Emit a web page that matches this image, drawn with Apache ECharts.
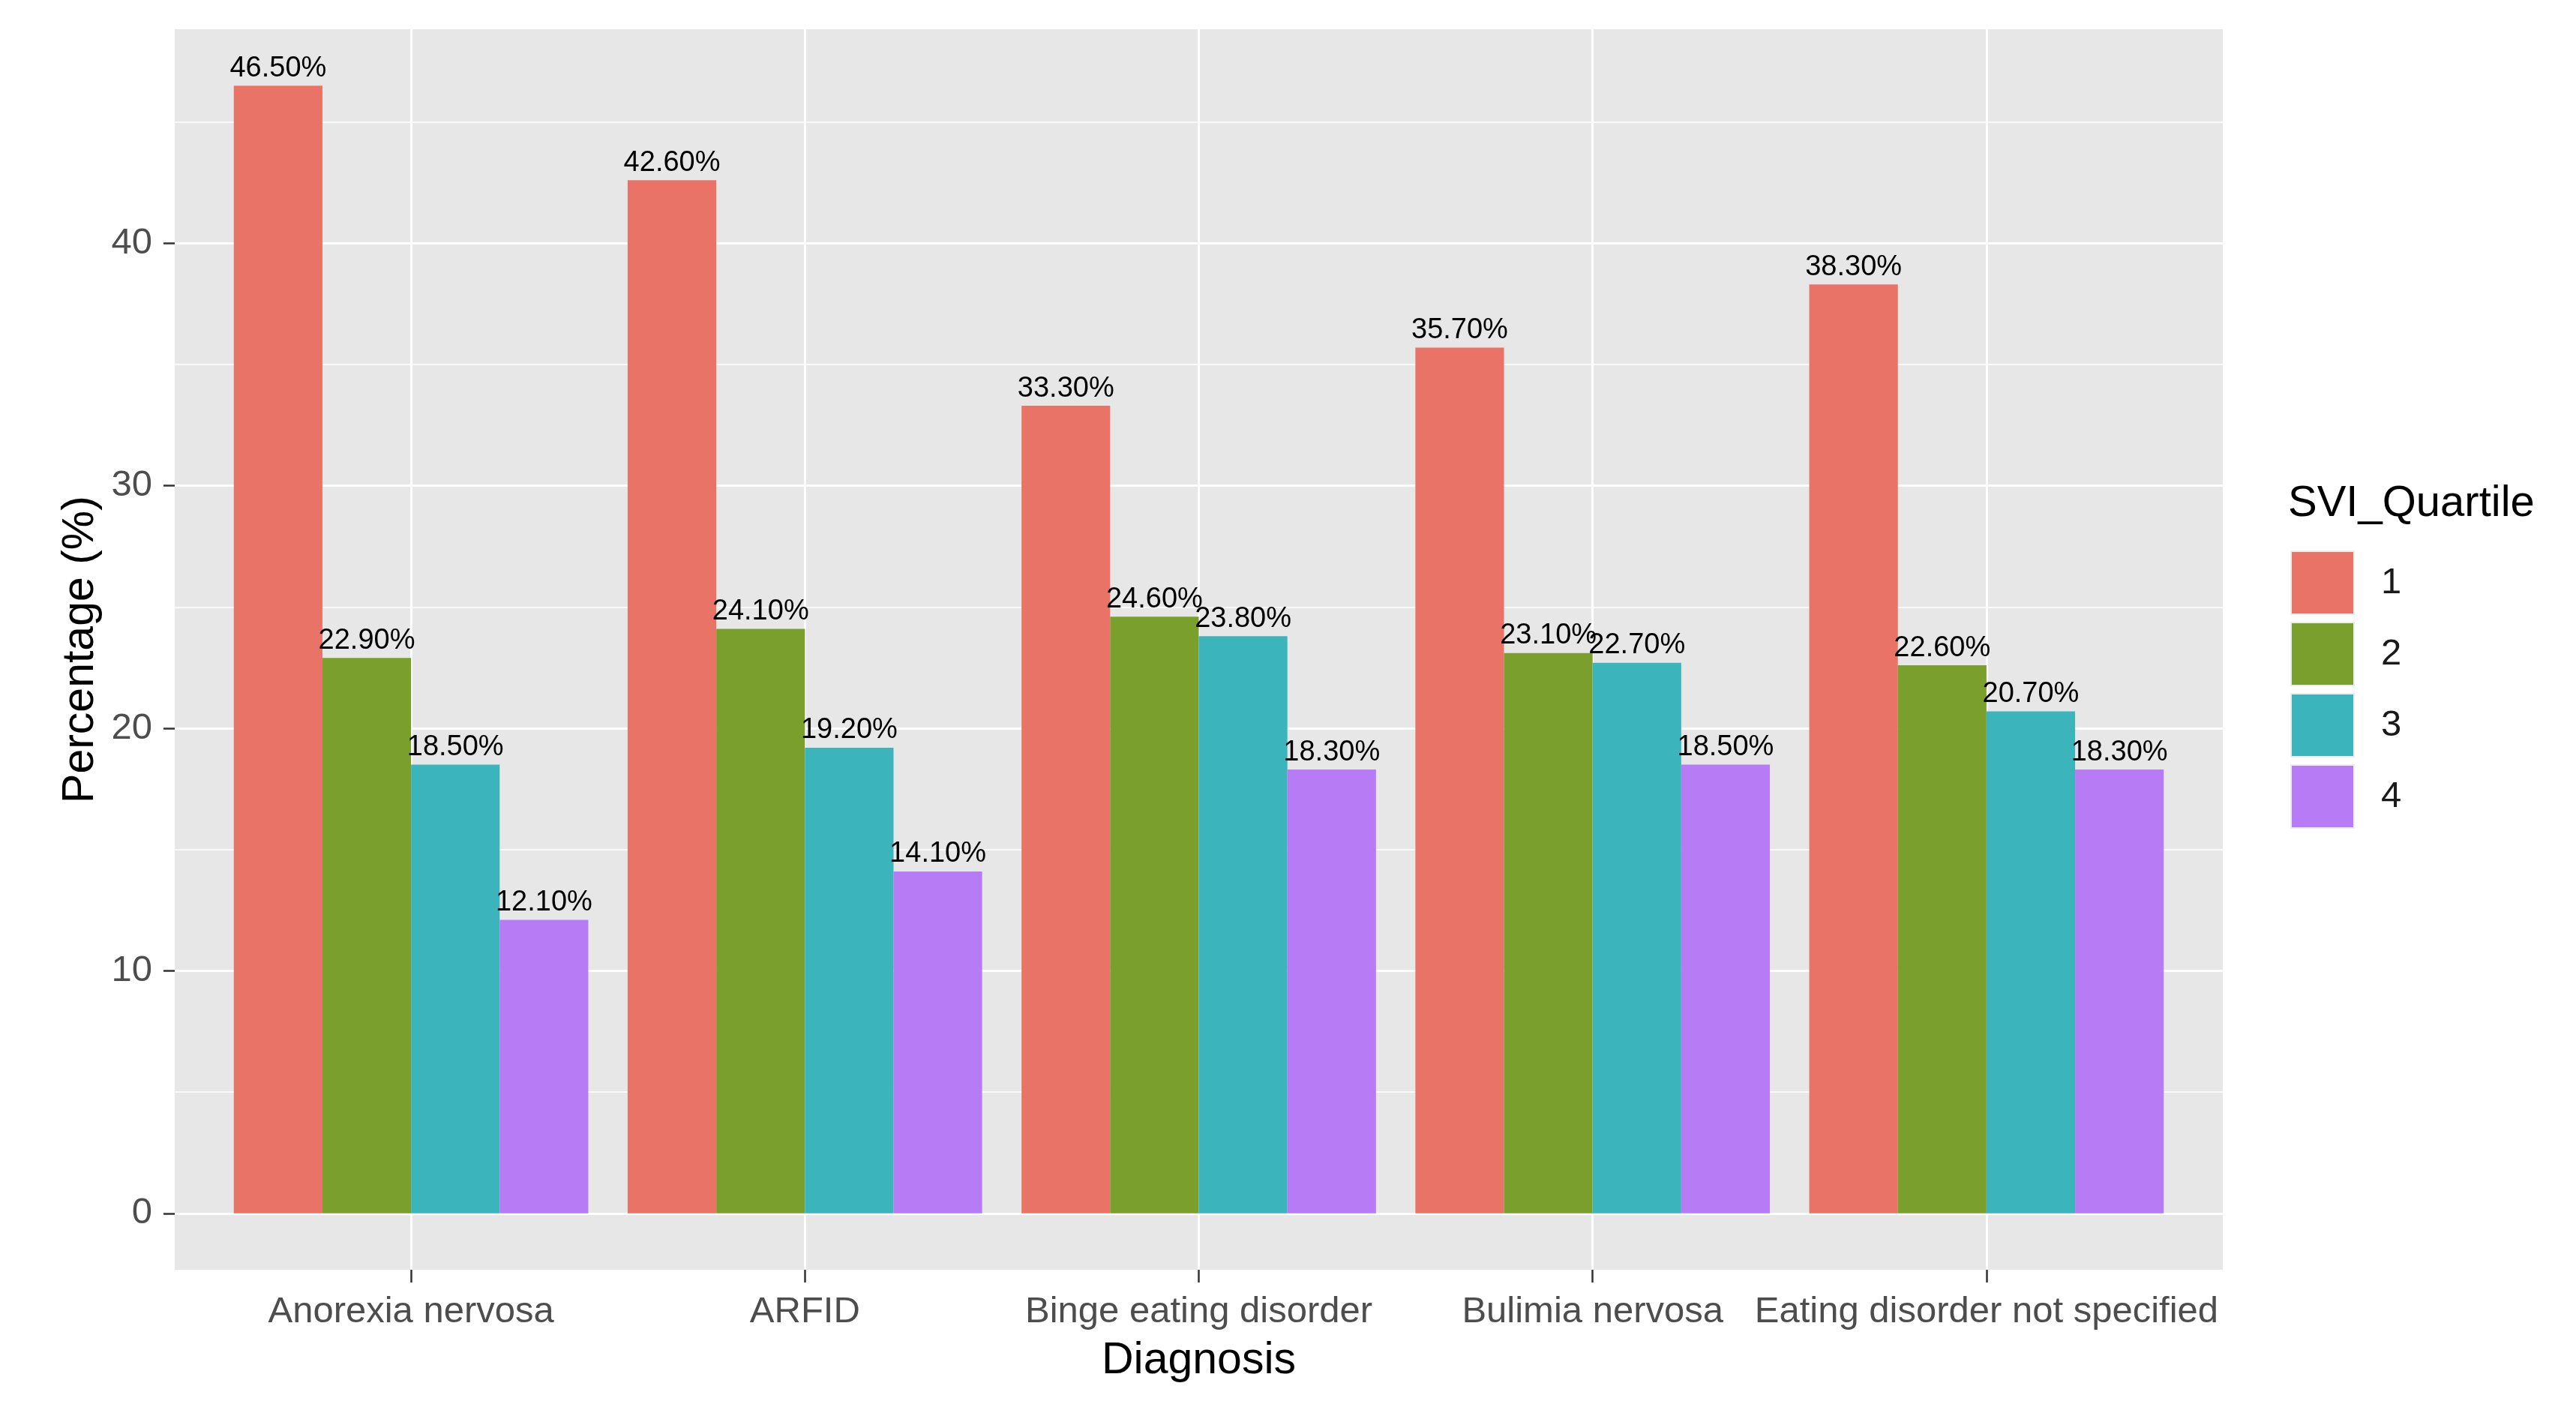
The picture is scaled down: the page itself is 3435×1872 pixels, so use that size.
<!DOCTYPE html>
<html><head><meta charset="utf-8">
<script src="https://cdn.jsdelivr.net/npm/echarts@6/dist/echarts.min.js"></script>
<style>html,body{margin:0;padding:0;background:#fff}#c{width:3435px;height:1872px}</style>
</head><body><div id="c"></div>
<script>
// ---- data ----
const categories = ['Anorexia nervosa', 'ARFID', 'Binge eating disorder', 'Bulimia nervosa', 'Eating disorder not specified'];
const quartiles = ['1', '2', '3', '4'];
const q1 = [46.5, 42.6, 33.3, 35.7, 38.3];
const q2 = [22.9, 24.1, 24.6, 23.1, 22.6];
const q3 = [18.5, 19.2, 23.8, 22.7, 20.7];
const q4 = [12.1, 14.1, 18.3, 18.5, 18.3];
const yTickValues = [0, 10, 20, 30, 40];
const yMinorValues = [5, 15, 25, 35, 45];
const xTickValues = [0, 1, 2, 3, 4];

// ---- styling ----
const FONT = "'Liberation Sans', Arial, sans-serif";
const colors = ['#EA7367', '#7B9F2C', '#3BB4BB', '#B77BF5'];
const allSeries = [q1, q2, q3, q4];

// ggplot-like expansion
const dataMax = Math.max(...q1, ...q2, ...q3, ...q4);
const yMin = -0.05 * dataMax, yMax = dataMax * 1.05;

const chart = echarts.init(document.getElementById('c'), null, {renderer: 'canvas'});
chart.setOption({
  animation: false,
  backgroundColor: '#ffffff',
  color: colors,
  title: {
    text: 'SVI_Quartile', left: 3046, top: 638,
    textStyle: {fontSize: 58, fontWeight: 'normal', color: '#000', fontFamily: FONT}
  },
  legend: {
    data: quartiles, orient: 'vertical', left: 3049, top: 729,
    itemWidth: 84, itemHeight: 84, itemGap: 9, icon: 'rect',
    itemStyle: {borderColor: '#EDEDED', borderWidth: 2},
    textStyle: {fontSize: 49, color: '#1A1A1A', fontFamily: FONT, padding: [0, 0, 0, 31]}
  },
  grid: {
    left: 233, right: 471, top: 39, bottom: 179,
    show: true, backgroundColor: '#E7E7E7', borderWidth: 0, containLabel: false
  },
  xAxis: {
    type: 'value', min: -0.6, max: 4.6,
    name: 'Diagnosis', nameLocation: 'middle', nameGap: 92,
    nameTextStyle: {fontSize: 59, color: '#000', fontFamily: FONT},
    axisLine: {show: false, onZero: false},
    axisTick: {show: true, customValues: xTickValues, length: 17, lineStyle: {color: '#333', width: 2.5}},
    axisLabel: {customValues: xTickValues, margin: 32, fontSize: 49, color: '#4D4D4D', fontFamily: FONT,
      formatter: v => categories[Math.round(v)] || ''},
    splitLine: {show: true, lineStyle: {color: '#fff', width: 3}}
  },
  yAxis: [{
    type: 'value', min: yMin, max: yMax,
    name: 'Percentage (%)', nameLocation: 'middle', nameGap: 92,
    nameTextStyle: {fontSize: 59, color: '#000', fontFamily: FONT},
    axisLine: {show: false, onZero: false},
    axisTick: {show: true, customValues: yTickValues, length: 15, lineStyle: {color: '#333', width: 2.5}},
    axisLabel: {customValues: yTickValues, margin: 30, fontSize: 49, color: '#4D4D4D', fontFamily: FONT},
    splitLine: {show: true, lineStyle: {color: '#fff', width: 3}}
  }, {
    type: 'value', min: yMin, max: yMax, position: 'left',
    axisLine: {show: false, onZero: false},
    axisTick: {show: false, customValues: yMinorValues},
    axisLabel: {show: false, customValues: yMinorValues},
    splitLine: {show: true, lineStyle: {color: '#fff', width: 1.5}}
  }],
  series: allSeries.map((vals, i) => ({
    name: quartiles[i], type: 'bar', xAxisIndex: 0, yAxisIndex: 0,
    barGap: '0%', barCategoryGap: '10%',
    data: vals.map((v, j) => [j, v]),
    itemStyle: {color: colors[i]},
    label: {
      show: true, position: 'top', distance: 4,
      formatter: p => p.value[1].toFixed(2) + '%',
      fontSize: 38, color: '#000', fontFamily: FONT
    }
  }))
});
</script></body></html>
